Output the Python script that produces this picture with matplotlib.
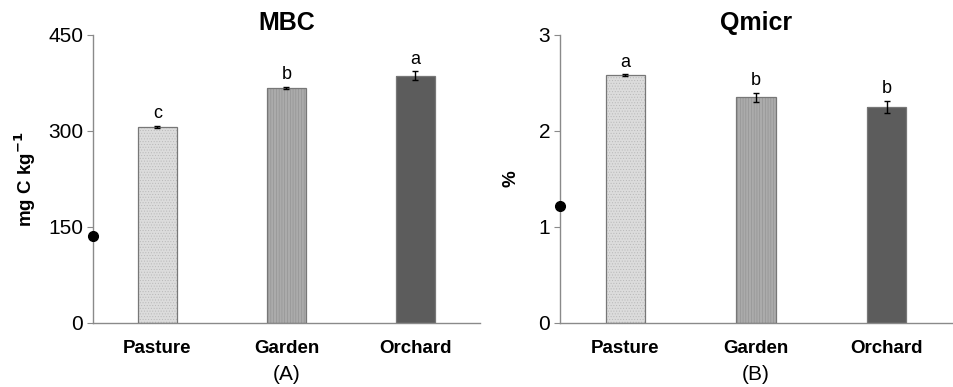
import matplotlib
matplotlib.use("Agg")
import matplotlib.pyplot as plt

plt.rcParams["font.family"] = ["Liberation Sans", "DejaVu Sans"]
plt.rcParams["hatch.linewidth"] = 0.4

sites = ["Pasture", "Garden", "Orchard"]
mbc = [306, 367, 386]
mbc_err = [2, 2, 7]
mbc_letters = ["c", "b", "a"]
mbc_ref = 136

qmicr = [2.58, 2.35, 2.25]
qmicr_err = [0.01, 0.05, 0.06]
qmicr_letters = ["a", "b", "b"]
qmicr_ref = 1.22

faces = ["#dcdcdc", "#ababab", "#5c5c5c"]
hatches = ["......", "||||||", ""]
hatch_cols = ["#b8b8b8", "#8f8f8f", "#5c5c5c"]
AX = "#8a8a8a"

fig = plt.figure(figsize=(9.54, 3.87), dpi=100)
axA = fig.add_axes([0.0975, 0.1654, 0.4055, 0.7442])
axB = fig.add_axes([0.587, 0.1654, 0.411, 0.7442])


def panel(ax, vals, errs, letters, ref, ymax, yticks, title, ylabel, tag, pad, lpad):
    x = range(len(sites))
    for i in x:
        ax.bar(i, vals[i], width=0.3, color=faces[i], edgecolor=hatch_cols[i],
               hatch=hatches[i], linewidth=0, zorder=2)
        ax.bar(i, vals[i], width=0.3, color="none", edgecolor="#777777",
               linewidth=0.9, zorder=3)
        ax.errorbar(i, vals[i], yerr=errs[i], fmt="none", ecolor="black",
                    elinewidth=1, capsize=2, capthick=1, zorder=4)
        ax.text(i, vals[i] + errs[i] + pad, letters[i], ha="center", va="bottom",
                fontsize=13)
    ax.plot([-0.5], [ref], "o", color="black", markersize=7, clip_on=False, zorder=5)
    ax.set_xlim(-0.5, 2.5)
    ax.set_ylim(0, ymax)
    ax.set_yticks(yticks)
    ax.set_xticks(list(x))
    ax.set_xticklabels(sites, fontsize=13.5, fontweight="bold")
    ax.tick_params(axis="x", length=0, pad=12)
    ax.tick_params(axis="y", length=4, color=AX, labelsize=15, pad=3)
    for s in ["top", "right"]:
        ax.spines[s].set_visible(False)
    for s in ["left", "bottom"]:
        ax.spines[s].set_color(AX)
        ax.spines[s].set_linewidth(1)
    ax.set_title(title, fontsize=18, fontweight="bold", pad=2)
    ax.set_ylabel(ylabel, fontsize=13.5, fontweight="bold", labelpad=lpad)
    ax.text(0.5, -0.18, tag, transform=ax.transAxes,
            ha="center", va="center", fontsize=15)


panel(axA, mbc, mbc_err, mbc_letters, mbc_ref, 450, [0, 150, 300, 450],
      "MBC", r"mg C kg$^{\mathbf{-1}}$", "(A)", 6, 7)
panel(axB, qmicr, qmicr_err, qmicr_letters, qmicr_ref, 3, [0, 1, 2, 3],
      "Qmicr", "%", "(B)", 0.04, 14)

fig.savefig("out.png", dpi=100, facecolor="white")
